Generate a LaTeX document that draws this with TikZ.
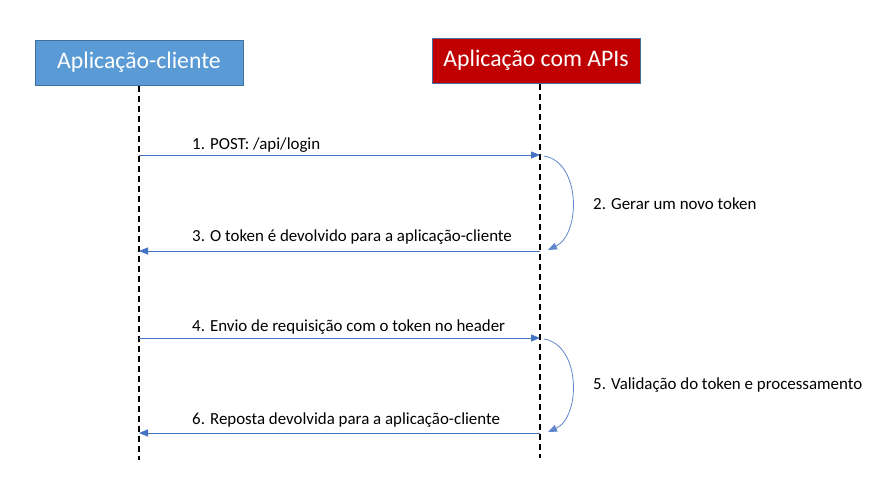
\documentclass[tikz,border=0pt]{standalone}
\usepackage{fontspec}
\setmainfont{Carlito}
\usepackage{tikz}
\usetikzlibrary{arrows.meta}
\definecolor{boxblue}{HTML}{5B9BD5}
\definecolor{boxred}{HTML}{C00000}
\definecolor{edgeblue}{HTML}{41719C}
\definecolor{msgblue}{HTML}{4472C4}
\tikzset{
  actor/.style={draw=edgeblue,line width=1pt,minimum width=208pt,minimum height=45pt,text=white,font=\fontsize{23.7}{28}\selectfont},
  life/.style={dash pattern=on 6pt off 4pt,line width=1.1pt},
  msg/.style={msgblue,line width=0.9pt,-{Triangle[length=9pt,width=7pt]}},
  self/.style={msgblue!85,line width=0.8pt,-{Triangle[length=9pt,width=7pt]}},
  lbl/.style={anchor=west,inner sep=0pt,font=\fontsize{16.9}{20}\selectfont}
}

\begin{document}
\begin{tikzpicture}[x=1pt,y=-1pt]
    \useasboundingbox (0,0) rectangle (877,488);

    \node[actor,fill=boxblue] (cli) at (139,62.5) {Aplicação-cliente};
    \node[actor,fill=boxred] (api) at (536,60.5) {Aplicação com APIs};

    \coordinate (cliend) at (139,460);
    \coordinate (apiend) at (540,458);
    \draw[life] (cli.south) -- (cliend);
    \draw[life] (api.south-|apiend) -- (apiend);

    % pedido de login
    \coordinate (c1) at (139,155);  \coordinate (s1) at (540,155);
    \coordinate (c3) at (139,251);  \coordinate (s3) at (540,251);
    \draw[msg] (c1) -- (s1);
    \node[lbl] (m1) at (192,145) {1. POST: /api/login};
    \draw[self] (544,156) .. controls (581,162) and (581,234) .. (548,250);
    \node[lbl] (m2) at (593,204) {2. Gerar um novo token};
    \draw[msg] (s3) -- (c3);
    \node[lbl] (m3) at (192,237) {3. O token é devolvido para a aplicação-cliente};

    % pedido com token
    \coordinate (c4) at (139,338);  \coordinate (s4) at (540,338);
    \coordinate (c6) at (139,433);  \coordinate (s6) at (540,433);
    \draw[msg] (c4) -- (s4);
    \node[lbl] (m4) at (192,327) {4. Envio de requisição com o token no header};
    \draw[self] (544,339) .. controls (581,345) and (581,417) .. (548,432);
    \node[lbl] (m5) at (593,385) {5. Validação do token e processamento};
    \draw[msg] (s6) -- (c6);
    \node[lbl] (m6) at (192,420) {6. Reposta devolvida para a aplicação-cliente};
\end{tikzpicture}
\end{document}
